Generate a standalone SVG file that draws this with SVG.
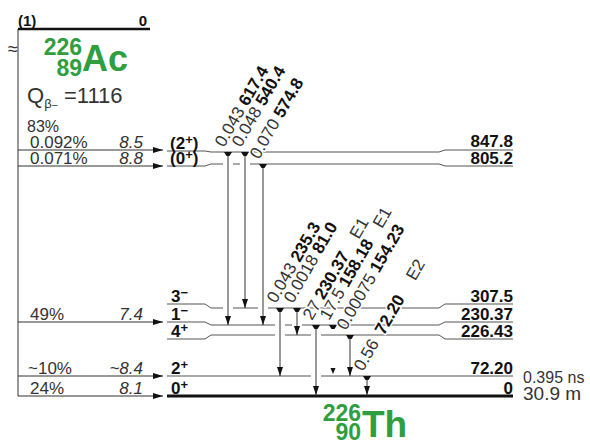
<svg xmlns="http://www.w3.org/2000/svg" xmlns:xlink="http://www.w3.org/1999/xlink" width="590" height="446" viewBox="0 0 590 446">
<style>
.lv{fill:none;stroke:#555;stroke-width:1}
.tr{fill:none;stroke:#333;stroke-width:1}
.ul{fill:none;stroke:#fff;stroke-width:10}
.t{font-family:"Liberation Sans",Arial,sans-serif;font-size:16px;fill:#333}
.b{font-weight:bold;fill:#111}
.i{font-style:italic}
.sup{font-size:13px}
.lab{paint-order:stroke;stroke:#fff;stroke-width:3px;stroke-linejoin:round;font-size:17px}
.g{font-family:"Liberation Sans",Arial,sans-serif;font-weight:bold;fill:#2e9e3e}
.mk{fill:#111}
</style>
<defs>
<marker id="fa" viewBox="0 0 10 6" refX="10" refY="3" markerWidth="10" markerHeight="6" markerUnits="userSpaceOnUse" orient="auto"><path d="M0,0 L10,3 L0,6 Z" fill="#111"/></marker>
<path id="st" d="M-4,0 H4 L1.5,4 H-1.5 Z"/>
<path id="ah" d="M-3,-9 L3,-9 L0,0 Z"/>
<path id="ahs" d="M-2.5,-6 L2.5,-6 L0,0 Z"/>
</defs>

<g id="parent">
<path d="M18,29 H150" stroke="#111" stroke-width="2.5" fill="none"/>
<text class="t b" x="18" y="26" style="font-size:15px">(1)</text>
<text class="t b" x="147" y="26" style="font-size:15px" text-anchor="end">0</text>
<text class="t" x="13" y="55" style="font-size:18px" text-anchor="middle">≈</text>
<text class="g" x="82" y="55" style="font-size:23px" text-anchor="end">226</text>
<text class="g" x="82" y="76" style="font-size:23px" text-anchor="end">89</text>
<text class="g" x="82" y="71" style="font-size:36px">Ac</text>
<text class="t" x="27" y="103" style="font-size:22px" fill="#222">Q<tspan style="font-size:13px" dy="5">β</tspan><tspan style="font-size:11px" dy="1">−</tspan><tspan x="64" dy="-6">=1116</tspan></text>
<text class="t" x="27" y="132">83%</text>
</g>

<g id="feeding">
<path class="tr" d="M18,29 V396"/>
<path class="tr" d="M18,150 H163" marker-end="url(#fa)"/>
<path class="tr" d="M18,166 H163" marker-end="url(#fa)"/>
<path class="tr" d="M18,322 H163" marker-end="url(#fa)"/>
<path class="tr" d="M18,376 H163" marker-end="url(#fa)"/>
<path class="tr" d="M18,396 H163" marker-end="url(#fa)"/>
<text class="t" x="30" y="148" style="font-size:17px">0.092%</text>
<text class="t i" x="143" y="148" style="font-size:17px" text-anchor="end">8.5</text>
<text class="t" x="30" y="164" style="font-size:17px">0.071%</text>
<text class="t i" x="143" y="164" style="font-size:17px" text-anchor="end">8.8</text>
<text class="t" x="30" y="320" style="font-size:17px">49%</text>
<text class="t i" x="143" y="320" style="font-size:17px" text-anchor="end">7.4</text>
<text class="t" x="28" y="374" style="font-size:17px">~10%</text>
<text class="t i" x="143" y="374" style="font-size:17px" text-anchor="end">~8.4</text>
<text class="t" x="30" y="394" style="font-size:17px">24%</text>
<text class="t i" x="143" y="394" style="font-size:17px" text-anchor="end">8.1</text>
</g>

<g id="levels">
<g id="lv847"><path class="lv" d="M167,151 H205 L211,152 H439 L445,150 H513"/>
<text class="t b" x="170" y="149" style="font-size:17px">(2<tspan class="sup" dy="-5">+</tspan><tspan dy="5">)</tspan></text>
<text class="t b" x="513" y="147" style="font-size:17px" text-anchor="end">847.8</text></g>
<g id="lv805"><path class="lv" d="M167,166 H205 L211,164 H439 L445,166 H513"/>
<text class="t b" x="170" y="164" style="font-size:17px">(0<tspan class="sup" dy="-5">+</tspan><tspan dy="5">)</tspan></text>
<text class="t b" x="513" y="164" style="font-size:17px" text-anchor="end">805.2</text></g>
<g id="lv307"><path class="lv" d="M167,304 H205 L211,308 H439 L445,304 H513"/>
<text class="t b" x="171" y="302" style="font-size:17px">3<tspan class="sup" dy="-5">−</tspan></text>
<text class="t b" x="513" y="302" style="font-size:17px" text-anchor="end">307.5</text></g>
<g id="lv230"><path class="lv" d="M167,322 H205 L211,325 H439 L445,322 H513"/>
<text class="t b" x="171" y="320" style="font-size:17px">1<tspan class="sup" dy="-5">−</tspan></text>
<text class="t b" x="513" y="320" style="font-size:17px" text-anchor="end">230.37</text></g>
<g id="lv226"><path class="lv" d="M167,339 H205 L211,335 H439 L445,339 H513"/>
<text class="t b" x="171" y="337" style="font-size:17px">4<tspan class="sup" dy="-5">+</tspan></text>
<text class="t b" x="513" y="337" style="font-size:17px" text-anchor="end">226.43</text></g>
<g id="lv72"><path class="lv" d="M167,376 H513"/>
<text class="t b" x="171" y="374" style="font-size:17px">2<tspan class="sup" dy="-5">+</tspan></text>
<text class="t b" x="513" y="374" style="font-size:17px" text-anchor="end">72.20</text>
<text class="t" x="523" y="383" style="font-size:16px">0.395 ns</text></g>
<g id="lv0"><path d="M167,396 H513" stroke="#111" stroke-width="3" fill="none"/>
<text class="t b" x="171" y="394" style="font-size:17px">0<tspan class="sup" dy="-5">+</tspan></text>
<text class="t b" x="513" y="394" style="font-size:17px" text-anchor="end">0</text>
<text class="t" x="523" y="400" style="font-size:19px" fill="#222">30.9 m</text></g>
</g>

<g id="connectors">
<path class="ul" d="M228,156 V321 M245,156 V304 M263,168 V321 M280,312 V372 M297,312 V331 M316,329 V392"/>
<path class="tr" d="M228,153 V325 M245,153 V308 M263,165 V325 M280,309 V376 M297,309 V335 M316,326 V396 M350,336 V376 M367,377 V396"/>
<g class="mk">
<use xlink:href="#st" x="228" y="152"/><use xlink:href="#st" x="245" y="152"/><use xlink:href="#st" x="263" y="164"/>
<use xlink:href="#st" x="280" y="308"/><use xlink:href="#st" x="297" y="308"/><use xlink:href="#st" x="316" y="325"/>
<use xlink:href="#st" x="333" y="325"/><use xlink:href="#st" x="350" y="335"/><use xlink:href="#st" x="367" y="376"/>
<use xlink:href="#ah" x="228" y="325"/><use xlink:href="#ah" x="245" y="308"/><use xlink:href="#ah" x="263" y="325"/>
<use xlink:href="#ah" x="280" y="376"/><use xlink:href="#ah" x="297" y="335"/><use xlink:href="#ah" x="316" y="395"/>
<use xlink:href="#ahs" x="333" y="374"/><use xlink:href="#ah" x="350" y="376"/><use xlink:href="#ah" x="367" y="395"/>
</g>
<g class="t lab">
<text transform="translate(224,148) rotate(-60)">0.043 <tspan class="b">617.4</tspan></text>
<text transform="translate(241,148) rotate(-60)">0.048 <tspan class="b">540.4</tspan></text>
<text transform="translate(259,160) rotate(-60)">0.070 <tspan class="b">574.8</tspan></text>
<text transform="translate(276,304) rotate(-60)">0.043 <tspan class="b">235.3</tspan></text>
<text transform="translate(293,304) rotate(-60)">0.0018 <tspan class="b">81.0</tspan></text>
<text transform="translate(312,321) rotate(-60)">27 <tspan class="b">230.37</tspan><tspan dx="18">E1</tspan></text>
<text transform="translate(329,321) rotate(-60)">17.5 <tspan class="b">158.18</tspan><tspan dx="16">E1</tspan></text>
<text transform="translate(346,331) rotate(-60)">0.00075 <tspan class="b">154.23</tspan></text>
<text transform="translate(363,372) rotate(-60)">0.56 <tspan class="b" dx="4">72.20</tspan><tspan dx="20">E2</tspan></text>
</g>
</g>

<g id="daughter">
<text class="g" x="361" y="421" style="font-size:23px" text-anchor="end">226</text>
<text class="g" x="361" y="440" style="font-size:23px" text-anchor="end">90</text>
<text class="g" x="362" y="437" style="font-size:37px">Th</text>
</g>
</svg>
